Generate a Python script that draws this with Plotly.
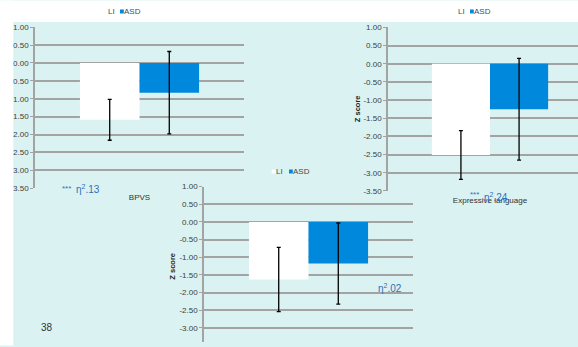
import plotly.graph_objects as go

# ---------------- data ----------------
groups = ["LI", "ASD"]
categories = ["BPVS", "Expressive language", "Measure 3"]
li_means = [-1.59, -2.51, -1.63]
asd_means = [-0.83, -1.25, -1.18]
li_err = [0.57, 0.67, 0.91]
asd_err = [1.15, 1.40, 1.15]
significance = ["***", "***", ""]
effect_sizes = [".13", ".24", ".02"]
y_tick_values = [1.0, 0.5, 0.0, -0.5, -1.0, -1.5, -2.0, -2.5, -3.0, -3.5]
y_tick_labels = [f"{v:.2f}" for v in y_tick_values]
y_title = "Z score"
page_number = "38"

# ---------------- style ----------------
W, H = 578, 347
BG = "#DAF2F1"
BLUE = "#0089DC"
GRID = "#A3A3A3"
TXT = "#404040"
ANN = "#3070B8"
FONT = "Liberation Sans, Arial, sans-serif"
colors = ["#FFFFFF", BLUE]

# the captured page maps figure rows to picture rows as y_img = A*y + B
A, B = 0.977, 2.5


def fig_y(y_img):
    return (y_img - B) / A


def fx(px):
    return px / W


def fy(y_img):
    return 1 - fig_y(y_img) / H


YMIN, YMAX = -3.5, 1.0
# panel geometry (picture pixels): x_left, x_right_visible, px per category, y of 1.00, y of -3.50
panels = [
    (35.0, 244.0, 209.0, 25.7, 187.3),
    (388.0, 578.0, 204.0, 26.0, 190.0),
    (204.0, 413.0, 209.0, 185.7, 345.0),
]

fig = go.Figure()
eps = 1e-4
layout_axes = {}
for i, (xl, xr, ppu, yt, yb) in enumerate(panels):
    sfx = "" if i == 0 else str(i + 1)
    xa, ya = "x" + sfx, "y" + sfx
    means = [li_means[i], asd_means[i]]
    errs = [li_err[i], asd_err[i]]
    for g, name in enumerate(groups):
        fig.add_trace(go.Bar(
            x=[categories[i]], y=[means[g]], name=name,
            marker=dict(color=colors[g], line=dict(width=0)),
            error_y=dict(type="data", array=[errs[g]], visible=True,
                         color="#000000", thickness=1.3, width=2),
            xaxis=xa, yaxis=ya, showlegend=False, offsetgroup=name,
        ))
    yt_f, yb_f = fig_y(yt), fig_y(yb)
    rmin = YMIN - eps
    if yb_f > H:  # panel runs off the bottom of the page: clip it
        rmin = YMAX - (H - yt_f) / (yb_f - yt_f) * (YMAX - YMIN)
        yb_f = H
    layout_axes["xaxis" + sfx] = dict(
        domain=[fx(xl), fx(xr)], anchor=ya, type="category",
        range=[-0.5, -0.5 + (xr - xl) / ppu],
        showgrid=False, zeroline=False, showline=False,
        ticks="outside", ticklen=1, tickcolor="rgba(0,0,0,0)",
        showticklabels=(i < 2),
        tickfont=dict(family=FONT, size=8, color="#333333"),
        fixedrange=True,
    )
    layout_axes["yaxis" + sfx] = dict(
        domain=[1 - yb_f / H, 1 - yt_f / H], anchor=xa,
        range=[rmin, YMAX + eps],
        tickvals=y_tick_values, ticktext=y_tick_labels,
        showgrid=True, gridcolor=GRID, gridwidth=1.5,
        zeroline=False, showline=True, linecolor=GRID, linewidth=1.5,
        ticks="outside", ticklen=3, tickcolor=GRID, tickwidth=1,
        tickfont=dict(family=FONT, size=8, color=TXT),
        fixedrange=True,
    )

annotations = []
shapes = []

# white crop strips at top and left
shapes.append(dict(type="rect", xref="paper", yref="paper", layer="above",
                   x0=0, x1=1, y0=fy(20.5), y1=1.01,
                   fillcolor="#FFFFFF", line=dict(width=0)))
shapes.append(dict(type="rect", xref="paper", yref="paper", layer="above",
                   x0=-0.01, x1=fx(13.3), y0=-0.01, y1=1.01,
                   fillcolor="#FFFFFF", line=dict(width=0)))

# legends: white-square x, LI x, blue-square x, ASD x, y centre
legend_pos = [
    (102.0, 108.0, 120.0, 123.8, 10.0),
    (452.0, 458.3, 470.0, 474.3, 10.0),
    (271.7, 276.0, 289.0, 292.8, 170.5),
]
for (wsx, lix, bsx, asx, yc) in legend_pos:
    for sx, col in ((wsx, colors[0]), (bsx, colors[1])):
        shapes.append(dict(type="rect", xref="paper", yref="paper", layer="above",
                           x0=fx(sx), x1=fx(sx + 3.8), y0=fy(yc + 2), y1=fy(yc - 2),
                           fillcolor=col, line=dict(width=0)))
    for tx, label in ((lix, groups[0]), (asx, groups[1])):
        annotations.append(dict(xref="paper", yref="paper", x=fx(tx), y=fy(yc),
                                xanchor="left", yanchor="middle", showarrow=False,
                                text=label, borderpad=0, borderwidth=0,
                                font=dict(family=FONT, size=8, color="#4a4a4a")))

for (xc, yc) in ((357.0, 108.0), (173.0, 266.0)):
    annotations.append(dict(xref="paper", yref="paper", x=fx(xc), y=fy(yc),
                            xanchor="center", yanchor="middle", showarrow=False,
                            text="<b>" + y_title + "</b>", textangle=-90,
                            borderpad=0, borderwidth=0,
                            font=dict(family=FONT, size=7.5, color="#222222")))

sig_pos = [(66.0, 187.5), (474.5, 193.5), None]
eff_pos = [(76.0, 188.5), (484.0, 196.0), (378.0, 287.0)]
for i in range(3):
    if significance[i] and sig_pos[i]:
        annotations.append(dict(xref="paper", yref="paper", x=fx(sig_pos[i][0]),
                                y=fy(sig_pos[i][1]), xanchor="center", yanchor="middle",
                                showarrow=False, text=significance[i],
                                borderpad=0, borderwidth=0,
                                font=dict(family=FONT, size=8, color=ANN)))
    annotations.append(dict(xref="paper", yref="paper", x=fx(eff_pos[i][0]),
                            y=fy(eff_pos[i][1]), xanchor="left", yanchor="middle",
                            showarrow=False,
                            text="η<sup>2</sup>" + effect_sizes[i],
                            borderpad=0, borderwidth=0,
                            font=dict(family=FONT, size=10, color=ANN)))

annotations.append(dict(xref="paper", yref="paper", x=fx(47.0), y=fy(327.0),
                        xanchor="center", yanchor="middle", showarrow=False,
                        text=page_number, borderpad=0, borderwidth=0,
                        font=dict(family=FONT, size=10, color="#333333")))

fig.update_layout(
    width=W, height=H, margin=dict(l=0, r=0, t=0, b=0),
    paper_bgcolor=BG, plot_bgcolor="rgba(0,0,0,0)",
    barmode="group", bargap=0.43, bargroupgap=0,
    showlegend=False, shapes=shapes, annotations=annotations,
    font=dict(family=FONT),
    **layout_axes,
)

# page background outside the figure: white top band and left strip, cyan elsewhere
page_bg = (
    "var s=document.documentElement.style;"
    "s.backgroundColor='" + BG + "';"
    "s.backgroundImage='linear-gradient(#ffffff,#ffffff),linear-gradient(#ffffff,#ffffff)';"
    "s.backgroundSize='100% 60px, 13px 3000px';"
    "s.backgroundRepeat='no-repeat, no-repeat';"
    "s.backgroundPosition='0 0, 0 0';"
    "document.body.style.background='transparent';"
)

fig.write_html("out.html", config={"displayModeBar": False}, post_script=page_bg)
